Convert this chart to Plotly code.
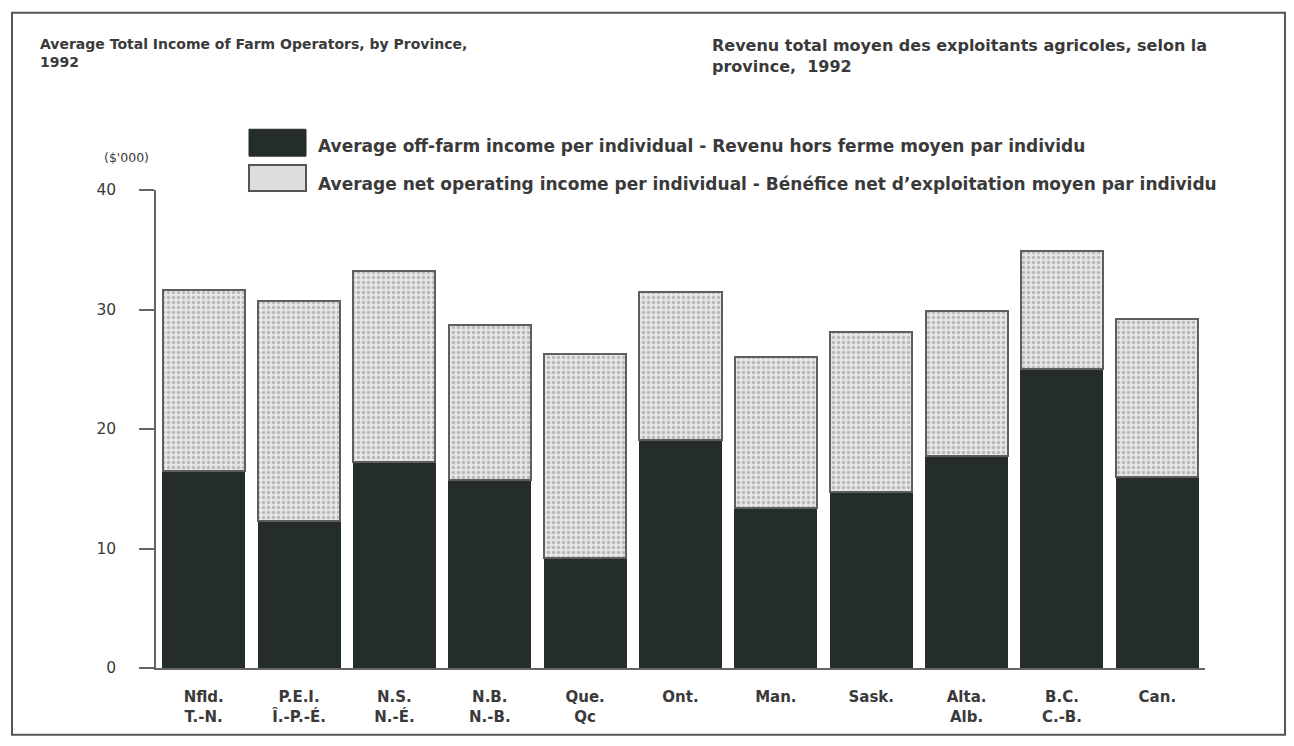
import plotly.graph_objects as go

# ---- data ----
categories = ["Nfld.<br>T.-N.", "P.E.I.<br>Î.-P.-É.", "N.S.<br>N.-É.", "N.B.<br>N.-B.", "Que.<br>Qc",
              "Ont.", "Man.", "Sask.", "Alta.<br>Alb.", "B.C.<br>C.-B.", "Can."]
off_farm = [16.5, 12.3, 17.2, 15.7, 9.2, 19.1, 13.4, 14.7, 17.7, 25.0, 16.0]
net_operating = [15.1, 18.4, 16.0, 13.0, 17.1, 12.4, 12.6, 13.4, 12.2, 9.9, 13.2]
y_ticks = [0, 10, 20, 30, 40]

series_names = [
    "Average off-farm income per individual - Revenu hors ferme moyen par individu",
    "Average net operating income per individual - Bénéfice net d\u2019exploitation moyen par individu",
]

# ---- layout geometry ----
# page has an 8px body margin, so the figure is 16px smaller than the window
OFF = 8
W, H = 1294 - 2 * OFF, 746 - 2 * OFF
# plot area in window pixels
L0, R0, T0, B0 = 156, 1205, 190, 670
FONT = "DejaVu Sans, Liberation Sans, Arial, sans-serif"
TXT = "#3a3a3a"
DARK = "#252d2b"


def px(x):
    return (x - L0) / (R0 - L0)


def py(y):
    return (B0 - y) / (B0 - T0)


fig = go.Figure()
fig.add_trace(go.Bar(
    x=categories, y=off_farm, name=series_names[0],
    marker=dict(color=DARK, line=dict(color=DARK, width=1)),
))
fig.add_trace(go.Bar(
    x=categories, y=net_operating, name=series_names[1],
    marker=dict(color="#e0e0e0", line=dict(color="#5e5e5e", width=2),
                pattern=dict(shape=".", fgcolor="#8a8a8a", bgcolor="#e6e6e6", size=5, solidity=0.35)),
))

shapes = [
    # outer frame
    dict(type="rect", xref="paper", yref="paper", x0=px(12), x1=px(1285), y0=py(737), y1=py(12),
         line=dict(color="#555555", width=2), layer="below"),
    # legend swatches
    dict(type="rect", xref="paper", yref="paper", x0=px(249), x1=px(306), y0=py(156), y1=py(129),
         fillcolor=DARK, line=dict(color=DARK, width=1)),
    dict(type="rect", xref="paper", yref="paper", x0=px(249), x1=px(306), y0=py(191), y1=py(165),
         fillcolor="#dcdcdc", line=dict(color="#555555", width=2)),
]

annotations = [
    dict(text="Average Total Income of Farm Operators, by Province,<br>1992", xref="paper", yref="paper",
         x=px(38), y=py(33), xanchor="left", yanchor="top", align="left", showarrow=False,
         font=dict(family=FONT, size=14, color=TXT, weight="bold")),
    dict(text="Revenu total moyen des exploitants agricoles, selon la<br>province,  1992", xref="paper", yref="paper",
         x=px(710), y=py(33), xanchor="left", yanchor="top", align="left", showarrow=False,
         font=dict(family=FONT, size=16, color=TXT, weight="bold")),
    dict(text="($'000)", xref="paper", yref="paper", x=px(102), y=py(157), xanchor="left", yanchor="middle",
         showarrow=False, font=dict(family=FONT, size=12.5, color=TXT)),
    dict(text=series_names[0], xref="paper", yref="paper", x=px(316), y=py(146), xanchor="left", yanchor="middle",
         showarrow=False, font=dict(family=FONT, size=17, color=TXT, weight="bold")),
    dict(text=series_names[1], xref="paper", yref="paper", x=px(316), y=py(184), xanchor="left", yanchor="middle",
         showarrow=False, font=dict(family=FONT, size=17, color=TXT, weight="bold")),
]

fig.update_layout(
    width=W, height=H,
    barmode="stack", bargap=0.14,
    showlegend=False,
    paper_bgcolor="white", plot_bgcolor="white",
    margin=dict(l=L0 - OFF, r=W - (R0 - OFF), t=T0 - OFF, b=H - (B0 - OFF), pad=0),
    shapes=shapes, annotations=annotations,
    font=dict(family=FONT, color=TXT),
)
fig.update_xaxes(
    showline=True, linecolor="#666666", linewidth=2, ticks="", showgrid=False,
    tickfont=dict(family=FONT, size=15, color=TXT, weight="bold"),
    ticklabelstandoff=14,
)
fig.update_yaxes(
    range=[0, 40], tickvals=y_ticks, showgrid=False, zeroline=False,
    showline=True, linecolor="#666666", linewidth=1.5,
    ticks="outside", ticklen=15, tickcolor="#666666", tickwidth=1.5,
    tickfont=dict(family=FONT, size=15.5, color=TXT),
    ticklabelstandoff=20,
)

fig.write_html("out.html")
